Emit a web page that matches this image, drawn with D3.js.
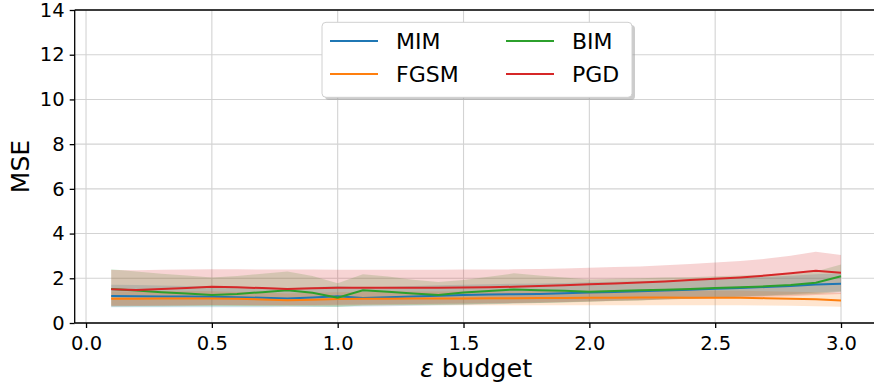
<!DOCTYPE html>
<html>
<head>
<meta charset="utf-8">
<script src="https://cdn.jsdelivr.net/npm/d3@7"></script>
<style>
  body { margin: 0; background: #fff; }
  text { font-family: "DejaVu Sans", sans-serif; fill: #000; }
</style>
</head>
<body>
<div id="vis"></div>
<script>
// epsilon budgets on the x axis
var eps = [0.1, 0.2, 0.3, 0.4, 0.5, 0.6, 0.7, 0.8, 0.9, 1.0,
           1.1, 1.2, 1.3, 1.4, 1.5, 1.6, 1.7, 1.8, 1.9, 2.0,
           2.1, 2.2, 2.3, 2.4, 2.5, 2.6, 2.7, 2.8, 2.9, 3.0];

// mean MSE per attack
var mimMean  = [1.21, 1.20, 1.19, 1.18, 1.17, 1.15, 1.13, 1.10, 1.14, 1.20,
                1.12, 1.15, 1.19, 1.22, 1.25, 1.27, 1.29, 1.30, 1.33, 1.36,
                1.39, 1.42, 1.45, 1.49, 1.53, 1.57, 1.61, 1.66, 1.72, 1.76];
var fgsmMean = [1.09, 1.09, 1.10, 1.10, 1.10, 1.08, 1.05, 1.02, 1.04, 1.07,
                1.08, 1.09, 1.10, 1.10, 1.10, 1.11, 1.11, 1.12, 1.12, 1.13,
                1.13, 1.14, 1.14, 1.13, 1.13, 1.13, 1.11, 1.09, 1.06, 1.01];
var bimMean  = [1.52, 1.45, 1.38, 1.32, 1.25, 1.30, 1.38, 1.47, 1.35, 1.13,
                1.46, 1.40, 1.32, 1.25, 1.36, 1.43, 1.50, 1.47, 1.44, 1.40,
                1.43, 1.46, 1.49, 1.52, 1.56, 1.60, 1.64, 1.70, 1.80, 2.09];
var pgdMean  = [1.51, 1.48, 1.52, 1.57, 1.62, 1.60, 1.56, 1.52, 1.55, 1.58,
                1.58, 1.58, 1.58, 1.58, 1.59, 1.60, 1.62, 1.65, 1.69, 1.73,
                1.77, 1.81, 1.86, 1.92, 1.98, 2.04, 2.12, 2.22, 2.34, 2.25];

// shaded band, lower edge
var mimLow  = [0.70, 0.70, 0.70, 0.70, 0.71, 0.71, 0.71, 0.72, 0.72, 0.73,
               0.74, 0.75, 0.77, 0.79, 0.81, 0.84, 0.87, 0.90, 0.93, 0.96,
               0.99, 1.02, 1.06, 1.10, 1.14, 1.18, 1.23, 1.29, 1.36, 1.42];
var fgsmLow = [0.78, 0.78, 0.78, 0.78, 0.78, 0.77, 0.76, 0.75, 0.76, 0.77,
               0.78, 0.78, 0.79, 0.79, 0.79, 0.79, 0.79, 0.79, 0.79, 0.79,
               0.79, 0.79, 0.79, 0.79, 0.79, 0.79, 0.78, 0.77, 0.75, 0.73];
var bimLow  = [0.74, 0.74, 0.74, 0.75, 0.75, 0.75, 0.75, 0.76, 0.74, 0.72,
               0.78, 0.80, 0.81, 0.82, 0.84, 0.86, 0.88, 0.90, 0.92, 0.95,
               0.98, 1.01, 1.05, 1.09, 1.13, 1.17, 1.21, 1.25, 1.30, 1.40];
var pgdLow  = [0.75, 0.76, 0.77, 0.78, 0.80, 0.80, 0.80, 0.80, 0.81, 0.82,
               0.83, 0.84, 0.85, 0.86, 0.87, 0.88, 0.90, 0.92, 0.94, 0.96,
               0.99, 1.02, 1.05, 1.08, 1.11, 1.14, 1.17, 1.20, 1.25, 1.30];

// shaded band, upper edge
var mimHigh  = [1.71, 1.70, 1.68, 1.66, 1.64, 1.62, 1.59, 1.55, 1.60, 1.65,
                1.58, 1.62, 1.66, 1.69, 1.71, 1.73, 1.76, 1.77, 1.79, 1.82,
                1.85, 1.87, 1.90, 1.94, 1.98, 2.02, 2.06, 2.11, 2.18, 2.23];
var fgsmHigh = [1.41, 1.41, 1.42, 1.42, 1.42, 1.39, 1.36, 1.32, 1.35, 1.38,
                1.39, 1.40, 1.41, 1.41, 1.41, 1.42, 1.42, 1.43, 1.43, 1.44,
                1.44, 1.45, 1.45, 1.44, 1.44, 1.44, 1.42, 1.40, 1.38, 1.34];
var bimHigh  = [2.40, 2.30, 2.20, 2.12, 2.03, 2.10, 2.20, 2.30, 2.10, 1.78,
                2.18, 2.08, 1.94, 1.83, 1.92, 2.07, 2.22, 2.13, 2.04, 1.95,
                1.98, 2.00, 2.03, 2.05, 2.09, 2.12, 2.16, 2.21, 2.30, 2.62];
var pgdHigh  = [2.37, 2.36, 2.38, 2.39, 2.40, 2.40, 2.39, 2.39, 2.39, 2.38,
                2.38, 2.38, 2.38, 2.38, 2.39, 2.39, 2.40, 2.42, 2.44, 2.47,
                2.50, 2.53, 2.58, 2.64, 2.71, 2.77, 2.87, 3.01, 3.19, 3.04];

var seriesNames = ['MIM', 'FGSM', 'BIM', 'PGD'];
var xTicks = [0.0, 0.5, 1.0, 1.5, 2.0, 2.5, 3.0];
var yTicks = [0, 2, 4, 6, 8, 10, 12, 14];

var colors = ['#1f77b4', '#ff7f0e', '#2ca02c', '#d62728'];

var width = 874, height = 385;
var plotLeft = 74.7, plotTop = 10, plotBottom = 323, plotRight = 877.5;

var series = [
    { name: seriesNames[0], mean: mimMean,  lo: mimLow,  hi: mimHigh,  color: colors[0] },
    { name: seriesNames[1], mean: fgsmMean, lo: fgsmLow, hi: fgsmHigh, color: colors[1] },
    { name: seriesNames[2], mean: bimMean,  lo: bimLow,  hi: bimHigh,  color: colors[2] },
    { name: seriesNames[3], mean: pgdMean,  lo: pgdLow,  hi: pgdHigh,  color: colors[3] }
];

var x = d3.scaleLinear().domain([-0.045, 3.145]).range([plotLeft, plotRight]);
var y = d3.scaleLinear().domain([0, 14]).range([plotBottom, plotTop]);

var svg = d3.select('#vis').append('svg')
    .attr('width', width)
    .attr('height', height);

// grid
svg.append('g').selectAll('line')
    .data(xTicks).enter().append('line')
    .attr('x1', d => x(d)).attr('x2', d => x(d))
    .attr('y1', plotTop).attr('y2', plotBottom)
    .attr('stroke', '#d3d3d3').attr('stroke-width', 1.1);
svg.append('g').selectAll('line')
    .data(yTicks).enter().append('line')
    .attr('x1', plotLeft).attr('x2', width)
    .attr('y1', d => y(d)).attr('y2', d => y(d))
    .attr('stroke', '#d3d3d3').attr('stroke-width', 1.1);

// bands
var area = d3.area()
    .x((d, i) => x(eps[i]))
    .y0(d => y(d[0]))
    .y1(d => y(d[1]));

series.forEach(function (s) {
    var pts = s.lo.map((l, i) => [l, s.hi[i]]);
    svg.append('path')
        .datum(pts)
        .attr('d', area)
        .attr('fill', s.color)
        .attr('fill-opacity', 0.2);
});

var line = d3.line()
    .x((d, i) => x(eps[i]))
    .y(d => y(d));

series.forEach(function (s) {
    svg.append('path')
        .datum(s.mean)
        .attr('d', line)
        .attr('fill', 'none')
        .attr('stroke', s.color)
        .attr('stroke-width', 2);
});

// axes
var xAxis = d3.axisBottom(x).tickValues(xTicks).tickFormat(d3.format('.1f')).tickSize(5).tickPadding(8);
var yAxis = d3.axisLeft(y).tickValues(yTicks).tickFormat(d3.format('d')).tickSize(5).tickPadding(5);

var gx = svg.append('g').attr('transform', 'translate(0,' + plotBottom + ')').call(xAxis);
var gy = svg.append('g').attr('transform', 'translate(' + plotLeft + ',0)').call(yAxis);
[gx, gy].forEach(function (g) {
    g.select('.domain').remove();
    g.selectAll('.tick line').attr('stroke', '#000').attr('stroke-width', 1.3);
    g.selectAll('.tick text').style('font-size', '19.5px').attr('fill', '#000');
});

// spines
svg.append('line').attr('x1', plotLeft).attr('x2', width).attr('y1', plotBottom).attr('y2', plotBottom)
    .attr('stroke', '#000').attr('stroke-width', 1.3);
svg.append('line').attr('x1', plotLeft).attr('x2', width).attr('y1', plotTop).attr('y2', plotTop)
    .attr('stroke', '#000').attr('stroke-width', 1.3);
svg.append('line').attr('x1', plotLeft).attr('x2', plotLeft).attr('y1', plotTop).attr('y2', plotBottom)
    .attr('stroke', '#000').attr('stroke-width', 1.3);

// axis labels
var xl = svg.append('text')
    .attr('x', (plotLeft + plotRight) / 2).attr('y', 377)
    .attr('text-anchor', 'middle')
    .style('font-size', '25.5px');
xl.append('tspan').style('font-style', 'italic').text('ε');
xl.append('tspan').text(' budget');

svg.append('text')
    .attr('transform', 'translate(29,' + (plotTop + plotBottom) / 2 + ') rotate(-90)')
    .attr('text-anchor', 'middle')
    .style('font-size', '25px')
    .text('MSE');

// legend
var lg = svg.append('g');
lg.append('rect')
    .attr('x', 325).attr('y', 25).attr('width', 310).attr('height', 75)
    .attr('rx', 4).attr('fill', '#999').attr('fill-opacity', 0.5);
lg.append('rect')
    .attr('x', 322).attr('y', 22.3).attr('width', 310).attr('height', 75)
    .attr('rx', 4).attr('fill', '#fff').attr('stroke', '#d0d0d0').attr('stroke-width', 1);

var entries = lg.selectAll('g.entry')
    .data(series).enter().append('g')
    .attr('transform', (d, i) => 'translate(' + (i < 2 ? 330 : 506) + ',' + (i % 2 === 0 ? 41 : 74) + ')');
entries.append('line')
    .attr('x1', 0).attr('x2', 48)
    .attr('stroke', d => d.color).attr('stroke-width', 2);
entries.append('text')
    .attr('x', 66).attr('dy', '0.36em')
    .style('font-size', '22px')
    .text(d => d.name);
</script>
</body>
</html>
